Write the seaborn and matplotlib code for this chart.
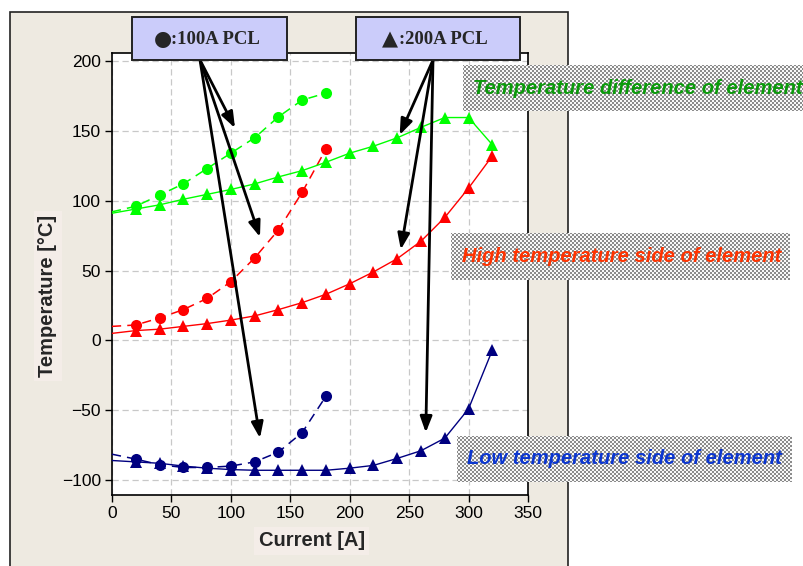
import numpy as np
import pandas as pd
import matplotlib
matplotlib.use("Agg")
import matplotlib.pyplot as plt
from matplotlib.patches import Rectangle
import seaborn as sns

# Current sweep [A]; the first entry of each list is where the curve starts at 0 A
current_100 = [0, 20, 40, 60, 80, 100, 120, 140, 160, 180]
current_200 = [0, 20, 40, 60, 80, 100, 120, 140, 160, 180,
               200, 220, 240, 260, 280, 300, 320]

# 100A PCL (circles, dashed)
diff_100 = [92, 96, 104, 112, 123, 134, 145, 160, 172, 177]
high_100 = [10, 11, 16, 22, 30, 42, 59, 79, 106, 137]
low_100 = [-81.5, -85, -89, -91, -91, -90, -87, -80, -66, -40]

# 200A PCL (triangles, solid)
diff_200 = [91, 94, 97, 101, 104.5, 108, 112, 117, 121.5, 127.5,
            134, 139, 145, 152.5, 159.5, 159.5, 140]
high_200 = [5, 7, 8, 10, 12, 14.5, 17.5, 22, 27, 33,
            40.5, 49, 58.5, 71, 88, 109, 132]
low_200 = [-86, -87, -88, -90, -91.5, -92.5, -93, -93, -93, -93,
           -91.5, -89.5, -84.5, -79, -70, -49, -7]

x_ticks = [0, 50, 100, 150, 200, 250, 300, 350]
y_ticks = [-100, -50, 0, 50, 100, 150, 200]

legend_symbols = ["\u25cf", "\u25b2"]
legend_labels = [":100A PCL", ":200A PCL"]
region_labels = ["Temperature difference of element",
                 "High temperature side of element",
                 "Low temperature side of element"]

GREEN, RED, NAVY = "#00ff00", "#ff0000", "#000080"
PANEL = "#eeeae1"

sns.set_style("ticks")
plt.rcParams["font.family"] = ["Liberation Sans", "DejaVu Sans"]

W, H = 804, 566
fig = plt.figure(figsize=(W / 100, H / 100), dpi=100)
fig.patch.set_facecolor("white")


def fx(px):
    return px / W


def fy(py):
    return 1 - py / H


# beige panel behind the plot
fig.add_artist(Rectangle((fx(10), -0.05), fx(568) - fx(10), fy(12) + 0.05,
                         transform=fig.transFigure, facecolor=PANEL,
                         edgecolor="#222222", lw=1.2, zorder=0))

ax = fig.add_axes([fx(112), fy(495), fx(528) - fx(112), fy(53) - fy(495)])
ax.set_zorder(1)
ax.set_facecolor("white")

series = [
    (current_100, diff_100, GREEN, "o", 8, (0, (6, 4)), 1.1),
    (current_100, high_100, RED, "o", 8, (0, (6, 4)), 1.1),
    (current_100, low_100, NAVY, "o", 8, (0, (6, 4)), 1.1),
    (current_200, diff_200, GREEN, "^", 9, "-", 1.0),
    (current_200, high_200, RED, "^", 9, "-", 1.0),
    (current_200, low_200, NAVY, "^", 9, "-", 1.0),
]
for xs, ys, col, mk, ms, ls, lw in series:
    df = pd.DataFrame({"Current": xs, "Temperature": ys})
    sns.lineplot(data=df, x="Current", y="Temperature", ax=ax, color=col,
                 linestyle=ls, lw=lw, marker=mk, markersize=ms,
                 markeredgewidth=0, markevery=list(range(1, len(xs))),
                 zorder=3)

ax.set_xlim(0, 350)
ax.set_ylim(-110.7, 205.7)
ax.set_xticks(x_ticks)
ax.set_yticks(y_ticks)
ax.set_xticklabels([str(v) for v in x_ticks])
ax.set_yticklabels([str(v).replace("-", "\u2212") for v in y_ticks])
ax.grid(True, color="#c8c8c8", linestyle=(0, (5, 3)), lw=0.9)
ax.tick_params(direction="out", length=5, width=1, labelsize=12.5,
               colors="black", pad=3)
for sp in ax.spines.values():
    sp.set_visible(True)
    sp.set_color("black")
    sp.set_linewidth(1.2)

lab_box = dict(facecolor="#f4ede8", edgecolor="none", pad=3)
ax.set_xlabel("Current [A]", fontsize=14.5, fontweight="bold", bbox=lab_box)
ax.set_ylabel("Temperature [\u00b0C]", fontsize=14.5, fontweight="bold",
              bbox=lab_box)
ax.xaxis.set_label_coords((311.7 - 112) / 416, (495 - 541) / 442)
ax.xaxis.label.set_va("center")
ax.yaxis.set_label_coords((48 - 112) / 416, (495 - 296) / 442)
ax.yaxis.label.set_va("center")
ax.yaxis.label.set_ha("center")

# legend boxes above the plot
legend_boxes = [(132, 287, 163, 171), (356, 520, 390, 399)]
for (x0, x1, sx, tx), sym, txt in zip(legend_boxes, legend_symbols, legend_labels):
    fig.add_artist(Rectangle((fx(x0), fy(60)), fx(x1) - fx(x0), fy(17) - fy(60),
                             transform=fig.transFigure, facecolor="#cbccfa",
                             edgecolor="#222222", lw=1.4, zorder=3))
    fig.text(fx(sx), fy(39), sym, ha="center", va="center",
             fontsize=15, family=["DejaVu Sans"], zorder=4)
    fig.text(fx(tx), fy(39), txt, ha="left", va="center",
             fontsize=13.5, fontweight="bold",
             family=["Liberation Serif", "DejaVu Serif"], zorder=4)

# arrows from legend boxes to the curves
arrow_kw = dict(arrowstyle="-|>,head_length=0.8,head_width=0.3",
                color="black", lw=2, mutation_scale=12, shrinkA=0, shrinkB=0)
for tip in [(103.5, 152), (124.5, 74), (124.5, -70)]:
    ax.annotate("", xy=tip, xycoords="data", xytext=(fx(200), fy(60)),
                textcoords="figure fraction", arrowprops=arrow_kw,
                annotation_clip=False)
for tip in [(242, 147), (243, 65), (264, -66)]:
    ax.annotate("", xy=tip, xycoords="data", xytext=(fx(433), fy(60)),
                textcoords="figure fraction", arrowprops=arrow_kw,
                annotation_clip=False)

# textured label plates
D, Wt = 0.55, 0.98
tile = np.array([[D, Wt, Wt, D],
                 [Wt, D, D, Wt],
                 [Wt, D, D, Wt],
                 [D, Wt, Wt, D]])
plates = [
    (463, 65, 804, 111, 473, "#0a9a0a"),
    (451, 233, 790, 280, 462, "#ff3300"),
    (457, 436, 792, 482, 467, "#0b36d0"),
]
for (x0, y0, x1, y1, tx, col), txt in zip(plates, region_labels):
    w, h = x1 - x0, y1 - y0
    tex = np.tile(tile, (h // 4 + 1, w // 4 + 1))[:h, :w]
    rgb = np.dstack([tex, tex, tex])
    fig.figimage(rgb, xo=x0, yo=H - y1, zorder=5, origin="upper")
    fig.text(fx(tx), fy((y0 + y1) / 2), txt, ha="left", va="center",
             fontsize=14.5, fontweight="bold", fontstyle="italic",
             color=col, zorder=6)

fig.savefig("out.png", dpi=100)
